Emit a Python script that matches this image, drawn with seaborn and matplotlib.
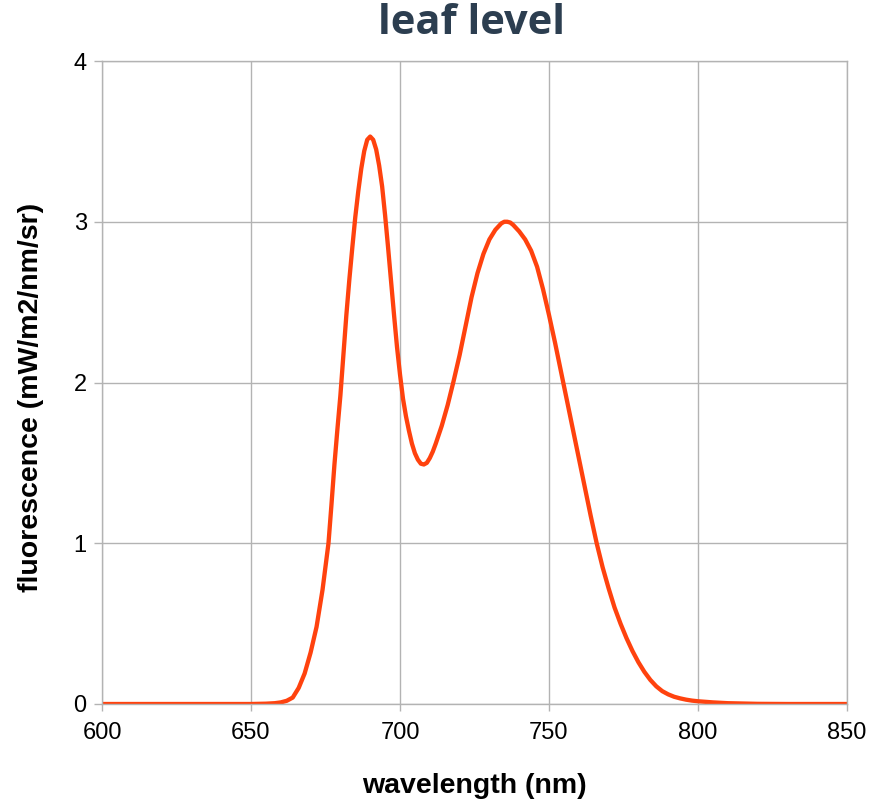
import matplotlib
matplotlib.use("Agg")
import matplotlib.pyplot as plt
import seaborn as sns
import pandas as pd

wavelength = [600, 620, 640, 650, 655, 658, 660, 662, 664, 666, 668, 670, 672, 674,
              676, 677, 678, 679, 680, 681, 682, 683, 684, 685, 686, 687, 688, 689,
              690, 691, 692, 693, 694, 695, 696, 697, 698, 699, 700, 701, 702, 703,
              704, 705, 706, 707, 708, 709, 710, 711, 712, 714, 716, 718, 720, 722,
              724, 726, 728, 730, 732, 734, 735, 736, 737, 738, 740, 742, 744, 746,
              748, 750, 752, 754, 756, 758, 760, 762, 764, 766, 768, 770, 772, 774,
              776, 778, 780, 782, 784, 786, 788, 790, 792, 794, 796, 798, 800, 805,
              810, 820, 830, 850]
fluorescence = [0.0, 0.0, 0.0, 0.0, 0.002, 0.005, 0.01, 0.02, 0.04, 0.10, 0.19, 0.32, 0.48, 0.71,
                1.00, 1.24, 1.49, 1.71, 1.92, 2.17, 2.42, 2.64, 2.84, 3.03, 3.19, 3.33, 3.44, 3.51,
                3.53, 3.51, 3.45, 3.35, 3.22, 3.04, 2.84, 2.63, 2.42, 2.22, 2.05, 1.90, 1.79, 1.70,
                1.62, 1.56, 1.52, 1.495, 1.49, 1.50, 1.53, 1.57, 1.62, 1.73, 1.86, 2.01, 2.17, 2.35,
                2.53, 2.68, 2.80, 2.89, 2.95, 2.99, 3.00, 3.00, 2.995, 2.98, 2.94, 2.89, 2.82, 2.72,
                2.58, 2.42, 2.25, 2.07, 1.89, 1.71, 1.53, 1.35, 1.17, 1.00, 0.85, 0.72, 0.60, 0.50,
                0.41, 0.33, 0.26, 0.20, 0.15, 0.11, 0.08, 0.06, 0.045, 0.035, 0.027, 0.021, 0.017, 0.01,
                0.005, 0.001, 0.0, 0.0]
x_ticks = [600, 650, 700, 750, 800, 850]
y_ticks = [0, 1, 2, 3, 4]

df = pd.DataFrame({"wavelength": wavelength, "fluorescence": fluorescence})

sns.set_theme(style="white")
plt.rcParams['font.family'] = ['Liberation Sans', 'DejaVu Sans']

fig = plt.figure(figsize=(8.81, 8.02), dpi=100)
ax = fig.add_axes([102/881, 1-704/802, (847-102)/881, (704-61)/802])

grid_c = "#b3b3b3"
sns.lineplot(data=df, x="wavelength", y="fluorescence", ax=ax, color="#ff420e", linewidth=3.1)

ax.set_xlim(600, 850)
ax.set_ylim(0, 4)
ax.set_xticks(x_ticks)
ax.set_yticks(y_ticks)
ax.set_xticklabels([str(v) for v in x_ticks])
ax.set_yticklabels([str(v) for v in y_ticks])
ax.grid(True, color=grid_c, linewidth=1.0)
ax.set_axisbelow(True)
for s in ax.spines.values():
    s.set_color(grid_c)
    s.set_linewidth(1.0)
ax.tick_params(axis="x", which="major", direction="out", length=5, width=1.0,
               color=grid_c, labelsize=17, labelcolor="black", pad=8, bottom=True)
ax.tick_params(axis="y", which="major", direction="out", length=6, width=1.0,
               color=grid_c, labelsize=17, labelcolor="black", pad=5, left=True)

ax.set_xlabel("wavelength (nm)", fontsize=20.5, fontweight="bold", labelpad=21, color="black")
ax.set_ylabel("fluorescence (mW/m2/nm/sr)", fontsize=20.5, fontweight="bold", color="black")
ax.yaxis.set_label_coords(-0.078, 0.476)

fig.text(472/881, 1 - 23/802, "leaf level", ha="center", va="center",
         fontsize=30, fontweight="bold", color="#2c3e50", family=["Open Sans", "DejaVu Sans"])

fig.savefig("out.png", dpi=100)
